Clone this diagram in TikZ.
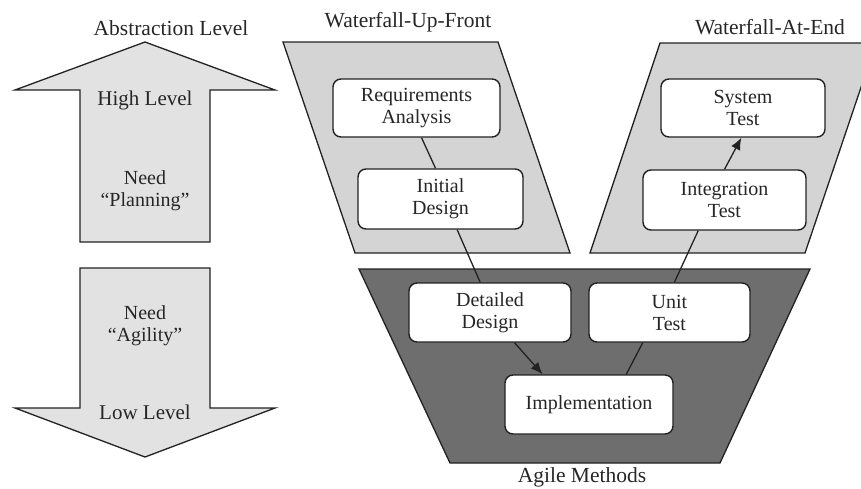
\documentclass[tikz,border=0pt]{standalone}
\usepackage{fontspec}
\setmainfont{Liberation Serif}
\usetikzlibrary{calc,arrows.meta}
\definecolor{edge}{HTML}{222222}
\definecolor{txt}{HTML}{262626}
\definecolor{panel}{HTML}{D4D4D4}
\definecolor{arrowfill}{HTML}{E2E2E2}
\definecolor{agile}{HTML}{6E6E6E}
\begin{document}
\begin{tikzpicture}[x=1pt,y=-1pt,
  every node/.style={text=txt, font=\fontsize{20}{22}\selectfont},
  outline/.style={draw=edge, line width=1.3pt, line join=miter},
  stage/.style={draw=edge, line width=1.4pt, fill=white, rounded corners=8pt,
    align=center, inner sep=0pt},
  title/.style={font=\fontsize{21.5}{24}\selectfont},
  conn/.style={draw=edge, line width=1.3pt},
  arr/.style={conn, -{Latex[length=12pt,width=10pt]}}]
\clip (0,0) rectangle (861,488);
% abstraction arrows
\draw[outline, fill=arrowfill] (145,42) -- (275,90) -- (210,90) -- (210,242) -- (80,242) -- (80,90) -- (15,90) -- cycle;
\draw[outline, fill=arrowfill] (80,268) -- (210,268) -- (210,408) -- (275,408) -- (145,457) -- (15,408) -- (80,408) -- cycle;
% panels
\draw[outline, fill=panel] (283,42) -- (498,42) -- (570,253) -- (355,253) -- cycle;
\draw[outline, fill=panel] (660,43) -- (876,43) -- (805,253) -- (590,253) -- cycle;
\draw[outline, fill=agile] (359,269) -- (810,269) -- (720,463) -- (450,463) -- cycle;
% labels
\node[title] (abs) at (171,28) {Abstraction Level};
\node[title] (wuf) at (408,22) {Waterfall-Up-Front};
\node[title] (wae) at (770,27) {Waterfall-At-End};
\node[title] (agl) at (582,477) {Agile Methods};
\node[font=\fontsize{21}{23}\selectfont] (hl) at (145,100) {High Level};
\node[align=center] (np) at (145,191) {Need\\“Planning”};
\node[align=center] (na) at (145,326) {Need\\“Agility”};
\node[font=\fontsize{21}{23}\selectfont] (ll) at (145,412) {Low Level};
% stages
\node[stage, minimum width=167pt, minimum height=58pt] (req) at (416.5,108) {Requirements\\Analysis};
\node[stage, minimum width=165pt, minimum height=60pt] (init) at (440.5,199) {Initial\\Design};
\node[stage, minimum width=162pt, minimum height=59pt] (det) at (490,312.5) {Detailed\\Design};
\node[stage, minimum width=168pt, minimum height=59pt] (impl) at (589,404.5) {Implementation};
\node[stage, minimum width=161pt, minimum height=59pt] (unit) at (669.5,312.5) {Unit\\Test};
\node[stage, minimum width=163pt, minimum height=60pt] (integ) at (724.5,200) {Integration\\Test};
\node[stage, minimum width=164pt, minimum height=58pt] (sys) at (743,108) {System\\Test};
% connectors
\draw[conn] ($(req.south west)!0.53!(req.south east)$) -- ($(init.north west)!0.47!(init.north east)$);
\draw[conn] ($(init.south west)!0.6!(init.south east)$) -- ($(det.north west)!0.44!(det.north east)$);
\draw[arr] ($(det.south west)!0.65!(det.south east)$) -- ($(impl.north west)!0.226!(impl.north east)$);
\draw[conn] ($(impl.north west)!0.72!(impl.north east)$) -- ($(unit.south west)!0.335!(unit.south east)$);
\draw[conn] ($(unit.north west)!0.53!(unit.north east)$) -- ($(integ.south west)!0.34!(integ.south east)$);
\draw[arr] ($(integ.north west)!0.5!(integ.north east)$) -- ($(sys.south west)!0.49!(sys.south east)$);
\end{tikzpicture}
\end{document}
